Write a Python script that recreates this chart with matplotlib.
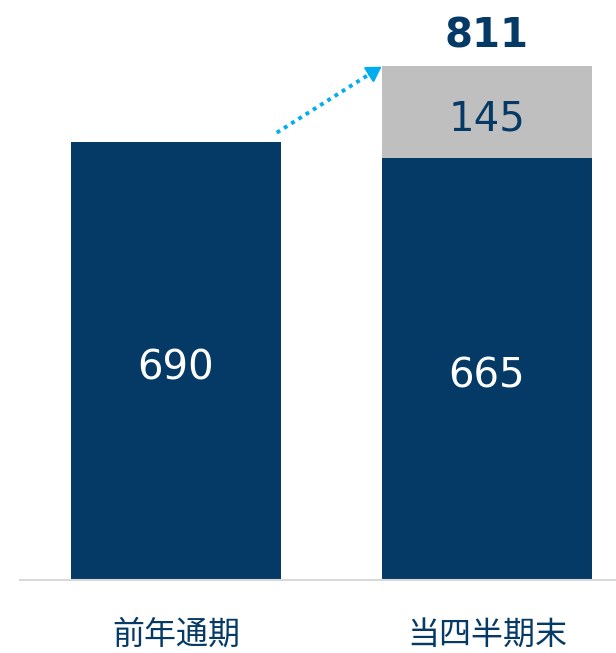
import matplotlib
matplotlib.use("Agg")
import matplotlib.pyplot as plt

# data
categories = ['前年通期', '当四半期末']
base_values = [690, 665]
added_values = [0, 145]
total_label = 811

navy = '#053A66'
gray = '#BFBFBF'
cyan = '#00AEEF'

plt.rcParams['font.family'] = ['DejaVu Sans']

fig = plt.figure(figsize=(6.16, 6.53), dpi=100)
ax = fig.add_axes([20 / 616, 73 / 653, 596 / 616, 580 / 653])

x = [0, 1]
w = 0.678
ax.bar(x, base_values, width=w, color=navy, zorder=2)
ax.bar(x[1], added_values[1], bottom=base_values[1], width=w, color=gray, zorder=2)

# value labels
off = 11  # nudge down, matplotlib centers on the full bbox
for xi, v in zip(x, base_values):
    ax.text(xi, v / 2 - off, str(v), ha='center', va='center', color='white', fontsize=29)
ax.text(x[1], base_values[1] + added_values[1] / 2 - off, str(added_values[1]),
        ha='center', va='center', color=navy, fontsize=29)
ax.text(x[1], total_label + 54 - 8, str(total_label), ha='center', va='center',
        color=navy, fontsize=29, fontweight='bold')

# dotted arrow from first bar to the top of the second
start = (x[0] + w / 2 - 0.015, base_values[0] + 15)
end = (x[1] - w / 2, total_label - 2)
ax.plot([start[0], end[0] - 0.03], [start[1], end[1] - 9], linestyle=(0, (1, 1.2)),
        color=cyan, lw=2.8, zorder=3)
ax.annotate('', xy=end, xytext=(end[0] - 0.04, end[1] - 12.5),
            arrowprops=dict(arrowstyle='-|>,head_length=0.9,head_width=0.55',
                            color=cyan, lw=1.5, shrinkA=0, shrinkB=0), zorder=3)

ax.set_xlim(-0.5016, 1.4148)
ax.set_ylim(0, 580 / 0.6345)

ax.set_xticks(x)
ax.set_xticklabels(categories, fontsize=23, color=navy,
                   family=['Noto Sans CJK JP', 'DejaVu Sans'])
ax.tick_params(axis='x', length=0, pad=28)
ax.set_yticks([])
for s in ['top', 'right', 'left']:
    ax.spines[s].set_visible(False)
ax.spines['bottom'].set_color('#D9D9D9')
ax.spines['bottom'].set_linewidth(1.5)

fig.savefig('out.png', dpi=100)
